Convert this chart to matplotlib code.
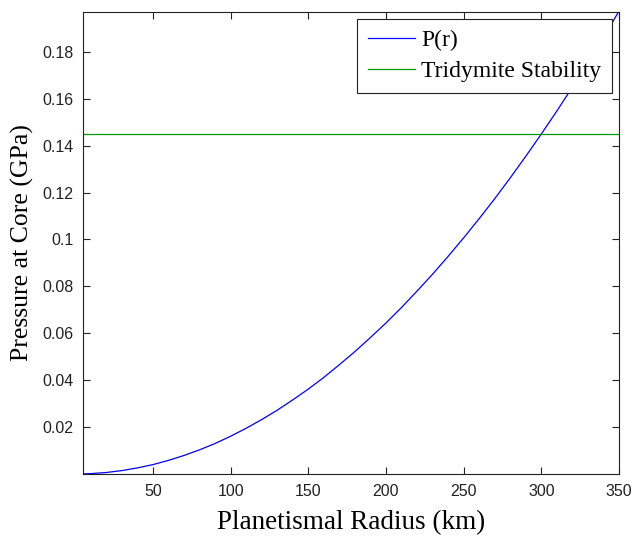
import matplotlib
matplotlib.use("Agg")
import matplotlib.pyplot as plt

# values
radius = [5, 10, 20, 30, 40, 50, 60, 70, 80, 90, 100, 110, 120, 130, 140, 150,
          160, 170, 180, 190, 200, 210, 220, 230, 240, 250, 260, 270, 280, 290,
          300, 310, 320, 330, 340, 350]
pressure = [0.00004, 0.00016, 0.00064, 0.00145, 0.0026, 0.004, 0.0058, 0.0079,
            0.0103, 0.0130, 0.0161, 0.0195, 0.0232, 0.0272, 0.0316, 0.0362,
            0.0412, 0.0466, 0.0522, 0.0582, 0.0644, 0.0710, 0.0780, 0.0852,
            0.0928, 0.1007, 0.1089, 0.1174, 0.1263, 0.1355, 0.1450, 0.1548,
            0.1650, 0.1754, 0.1862, 0.1974]
tridymite = 0.145

xticks = [50, 100, 150, 200, 250, 300, 350]
yticks = [0.02, 0.04, 0.06, 0.08, 0.1, 0.12, 0.14, 0.16, 0.18]
ytick_labels = ["0.02", "0.04", "0.06", "0.08", "0.1", "0.12", "0.14", "0.16", "0.18"]

fig = plt.figure(figsize=(6.36, 5.39), dpi=100)
ax = fig.add_axes([0.1305, 0.1206, 0.8428, 0.8571])

ax.plot(radius, pressure, color=(0, 0, 1), lw=0.9, label="P(r)")
ax.axhline(tridymite, color=(0, 0.6, 0), lw=0.9, label="Tridymite Stability")

ax.set_xlim(5, 350)
ax.set_ylim(0, 0.197)
ax.set_xticks(xticks)
ax.set_xticklabels([str(t) for t in xticks])
ax.set_yticks(yticks)
ax.set_yticklabels(ytick_labels)
ax.tick_params(direction="in", top=True, right=True, length=5, width=0.8,
               labelsize=11.5, colors="#222222", pad=7)
for lab in ax.get_xticklabels() + ax.get_yticklabels():
    lab.set_family("Liberation Sans")
for sp in ax.spines.values():
    sp.set_color("#222222")
    sp.set_linewidth(0.8)

ax.set_xlabel("Planetismal Radius (km)", family="Liberation Serif", fontsize=19.5, labelpad=8)
ax.set_ylabel("Pressure at Core (GPa)", family="Liberation Serif", fontsize=18.5, labelpad=6)

leg = ax.legend(loc="upper right", prop={"family": "Liberation Serif", "size": 17},
                fancybox=False, framealpha=1, edgecolor="#222222",
                borderaxespad=0.3, handlelength=2.0, handletextpad=0.25,
                labelspacing=0.4, borderpad=0.45)
leg.get_frame().set_linewidth(0.8)

fig.savefig("out.png", dpi=100)
